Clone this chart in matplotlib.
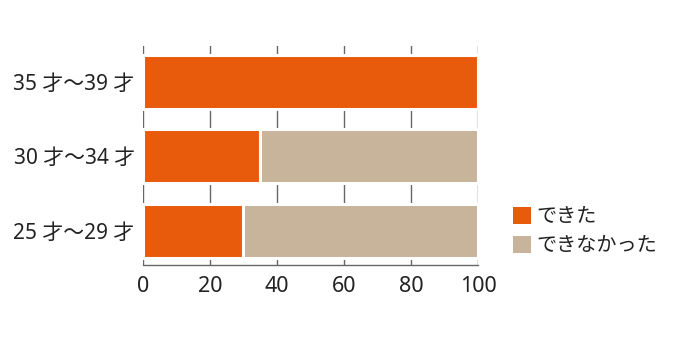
import matplotlib
matplotlib.use('Agg')
import matplotlib.pyplot as plt
from matplotlib.patches import Patch

plt.rcParams['font.family'] = ['Noto Sans', 'Noto Sans CJK JP']

# data
groups = ['25 才〜29 才', '30 才〜34 才', '35 才〜39 才']
dekita = [30, 35, 100]
dekinakatta = [70, 65, 0]
series_names = ['できた', 'できなかった']
x_ticks = [0, 20, 40, 60, 80, 100]

orange = '#E85A0C'
beige = '#C8B39B'

fig = plt.figure(figsize=(6.8, 3.4), dpi=100)
ax = fig.add_axes([0.2103, 0.2206, 0.4926, 0.6441])

ypos = list(range(len(groups)))
ax.barh(ypos, dekita, height=0.73, color=orange, edgecolor='white', linewidth=2.2, zorder=3)
ax.barh(ypos, dekinakatta, left=dekita, height=0.73, color=beige, edgecolor='white',
        linewidth=2.2, zorder=3)

ax.set_xlim(0, 100)
ax.set_ylim(-0.46, 2.48)
ax.set_xticks(x_ticks)
ax.set_xticklabels([str(v) for v in x_ticks], fontsize=15.5, color='#222222')
ax.set_yticks(ypos)
ax.set_yticklabels(groups, fontsize=15, color='#222222')
ax.tick_params(axis='x', length=0, pad=8)
ax.tick_params(axis='y', length=0, pad=6)

ax.xaxis.grid(True, color='#666666', linewidth=1.0, zorder=0)
ax.set_axisbelow(True)
for s in ['top', 'left', 'right']:
    ax.spines[s].set_visible(False)
ax.spines['bottom'].set_color('#666666')
ax.spines['bottom'].set_linewidth(1.0)

handles = [Patch(facecolor=orange, edgecolor='none'), Patch(facecolor=beige, edgecolor='none')]
fig.legend(handles, series_names, loc='upper left', bbox_to_anchor=(0.728, 0.445),
           frameon=False, fontsize=14.5, handlelength=0.9, handleheight=0.9,
           handletextpad=0.25, labelspacing=0.45, labelcolor='#222222')

fig.savefig('out.png', dpi=100, facecolor='white')
